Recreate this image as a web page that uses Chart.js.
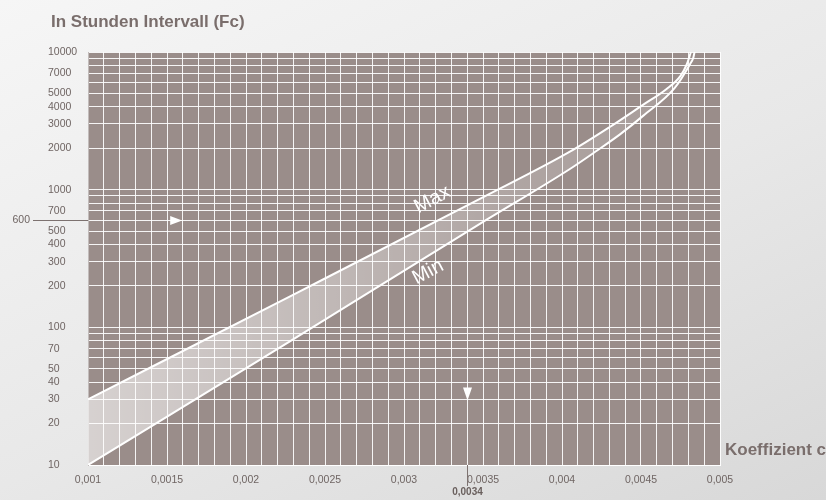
<!DOCTYPE html>
<html><head><meta charset="utf-8">
<script src="https://cdn.jsdelivr.net/npm/chart.js@4.4.1/dist/chart.umd.min.js"></script>
<style>
html,body{margin:0;padding:0;width:826px;height:500px;overflow:hidden;}
body{background:linear-gradient(155deg,#f6f6f6 0%,#e8e8e8 55%,#d8d8d8 100%);}
#wrap{position:relative;width:826px;height:500px;}
canvas{display:block;}
</style></head><body>
<div id="wrap"><canvas id="c" width="826" height="500"></canvas></div>
<script>
// ---- data ----
const maxX = [0.001, 0.00227, 0.00348, 0.00405, 0.0043, 0.00451, 0.00466, 0.00475, 0.00479, 0.004816];
const maxY = [30, 166, 856, 1886, 2840, 4110, 5366, 6700, 8147, 10000];
const minX = [0.001, 0.00227, 0.00348, 0.00405, 0.00422, 0.004367, 0.004515, 0.004715, 0.00481, 0.004831, 0.004839];
const minY = [10, 78, 564, 1413, 1917, 2523, 3450, 5511, 8147, 9094, 10000];
const seriesLabels = ['Max', 'Min'];
const seriesLabelX = [0.00318, 0.003152];
const seriesLabelY = [846, 252];

const xGridValues = [0.001,0.0011,0.0012,0.0013,0.0014,0.0015,0.0016,0.0017,0.0018,0.0019,
  0.002,0.0021,0.0022,0.0023,0.0024,0.0025,0.0026,0.0027,0.0028,0.0029,
  0.003,0.0031,0.0032,0.0033,0.0034,0.0035,0.0036,0.0037,0.0038,0.0039,
  0.004,0.0041,0.0042,0.0043,0.0044,0.0045,0.0046,0.0047,0.0048,0.0049,0.005];
const xLabelValues = [0.001,0.0015,0.002,0.0025,0.003,0.0035,0.004,0.0045,0.005];
const xTickLabels = ['0,001','0,0015','0,002','0,0025','0,003','0,0035','0,004','0,0045','0,005'];
const yGridValues = [10,20,30,40,50,60,70,80,90,100,200,300,400,500,600,700,800,900,
  1000,2000,3000,4000,5000,6000,7000,8000,9000,10000];
const yLabelValues = [10,20,30,40,50,70,100,200,300,400,500,700,1000,2000,3000,4000,5000,7000,10000];
const yTickLabels = ['10','20','30','40','50','70','100','200','300','400','500','700','1000','2000','3000','4000','5000','7000','10000'];
const markerY = 600, markerYLabel = '600';
const markerX = 0.0034, markerXLabel = '0,0034';
const titleText = 'In Stunden Intervall (Fc)';
const xAxisTitle = 'Koeffizient c';

// ---- styling ----
const FONT = '"Liberation Sans", Arial, Helvetica, sans-serif';
const TICK_COLOR = '#6f6563';
const TITLE_COLOR = '#7a6e6c';
const PLOT_BG = '#9a8d8a';
const GRID = 'rgba(255,255,255,0.9)';

const bgPlugin = {
  id: 'plotBg',
  beforeDraw(chart) {
    const {ctx, chartArea: a} = chart;
    ctx.save();
    ctx.fillStyle = PLOT_BG;
    ctx.fillRect(a.left, a.top, a.right - a.left, a.bottom - a.top);
    ctx.restore();
  }
};

const annotPlugin = {
  id: 'annot',
  afterDraw(chart) {
    const {ctx, chartArea: a, scales: {x, y}} = chart;
    ctx.save();
    // titles
    ctx.fillStyle = TITLE_COLOR;
    ctx.font = 'bold 17px ' + FONT;
    ctx.textAlign = 'left';
    ctx.textBaseline = 'alphabetic';
    ctx.fillText(titleText, 51, 27);
    ctx.fillText(xAxisTitle, 725, 455);

    // 600 marker outside
    const yp = Math.round(y.getPixelForValue(markerY)) + 0.5;
    ctx.strokeStyle = '#7d7270';
    ctx.lineWidth = 1;
    ctx.beginPath(); ctx.moveTo(33, yp); ctx.lineTo(a.left, yp); ctx.stroke();
    ctx.fillStyle = TICK_COLOR;
    ctx.font = '10.5px ' + FONT;
    ctx.textAlign = 'right';
    ctx.textBaseline = 'middle';
    ctx.fillText(markerYLabel, 30, yp);

    // 0,0034 marker below axis
    const xp = Math.round(x.getPixelForValue(markerX)) + 0.5;
    ctx.beginPath(); ctx.moveTo(xp, a.bottom); ctx.lineTo(xp, a.bottom + 21); ctx.stroke();
    ctx.font = 'bold 10px ' + FONT;
    ctx.textAlign = 'center';
    ctx.fillStyle = '#6a605e';
    ctx.fillText(markerXLabel, xp, 492);

    // arrows
    ctx.fillStyle = '#ffffff';
    const ax = x.getPixelForValue(0.00152);
    ctx.beginPath(); ctx.moveTo(ax, yp - 4.5); ctx.lineTo(ax + 12, yp); ctx.lineTo(ax, yp + 4.5); ctx.closePath(); ctx.fill();
    const ay = y.getPixelForValue(36.5);
    ctx.beginPath(); ctx.moveTo(xp - 4.5, ay); ctx.lineTo(xp + 4.5, ay); ctx.lineTo(xp, ay + 13); ctx.closePath(); ctx.fill();

    // series labels
    ctx.font = '20px ' + FONT;
    ctx.fillStyle = '#ffffff';
    ctx.textAlign = 'center';
    ctx.textBaseline = 'middle';
    for (let i = 0; i < seriesLabels.length; i++) {
      const px = x.getPixelForValue(seriesLabelX[i]);
      const py = y.getPixelForValue(seriesLabelY[i]);
      ctx.save();
      ctx.translate(px, py);
      ctx.rotate(-28 * Math.PI / 180);
      ctx.fillText(seriesLabels[i], 0, 0);
      ctx.restore();
    }
    ctx.restore();
  }
};

const bandFill = (c) => {
  const a = c.chart.chartArea;
  if (!a) return 'rgba(255,255,255,0.4)';
  const g = c.chart.ctx.createLinearGradient(a.left, 0, a.right, 0);
  g.addColorStop(0, 'rgba(255,255,255,0.6)');
  g.addColorStop(0.35, 'rgba(255,255,255,0.4)');
  g.addColorStop(0.65, 'rgba(255,255,255,0.22)');
  g.addColorStop(1, 'rgba(255,255,255,0.12)');
  return g;
};

new Chart(document.getElementById('c'), {
  type: 'line',
  data: {
    datasets: [
      { label: seriesLabels[0], data: maxX.map((v, i) => ({x: v, y: maxY[i]})),
        borderColor: '#ffffff', borderWidth: 2, pointRadius: 0, fill: '+1',
        backgroundColor: bandFill, cubicInterpolationMode: 'monotone' },
      { label: seriesLabels[1], data: minX.map((v, i) => ({x: v, y: minY[i]})),
        borderColor: '#ffffff', borderWidth: 2, pointRadius: 0, fill: false,
        cubicInterpolationMode: 'monotone' }
    ]
  },
  options: {
    responsive: false, animation: false, devicePixelRatio: 1,
    layout: { padding: { left: 48, right: 106, top: 52, bottom: 0 } },
    plugins: { legend: { display: false }, tooltip: { enabled: false }, title: { display: false } },
    scales: {
      x: {
        type: 'linear', min: 0.001, max: 0.005,
        grid: { color: GRID, lineWidth: 1, drawTicks: false },
        border: { color: '#ffffff' },
        afterBuildTicks: s => { s.ticks = xGridValues.map(v => ({value: v})); },
        afterFit: s => { s.height = 35; },
        ticks: {
          autoSkip: false, maxRotation: 0, minRotation: 0, padding: 9,
          color: TICK_COLOR, font: { family: FONT, size: 10.5 },
          callback: (v) => {
            const i = xLabelValues.findIndex(t => Math.abs(t - v) < 1e-9);
            return i >= 0 ? xTickLabels[i] : '';
          }
        }
      },
      y: {
        type: 'logarithmic', min: 10, max: 10000,
        grid: { color: GRID, lineWidth: 1, drawTicks: false },
        border: { color: '#c2bcbb' },
        afterBuildTicks: s => { s.ticks = yGridValues.map(v => ({value: v})); },
        afterFit: s => { s.width = 40; },
        ticks: {
          autoSkip: false, crossAlign: 'far', padding: 6,
          color: TICK_COLOR, font: { family: FONT, size: 10.5 },
          callback: (v) => {
            const i = yLabelValues.findIndex(t => Math.abs(t - v) < 1e-6);
            return i >= 0 ? yTickLabels[i] : '';
          }
        }
      }
    }
  },
  plugins: [bgPlugin, annotPlugin]
});
</script>
</body></html>
